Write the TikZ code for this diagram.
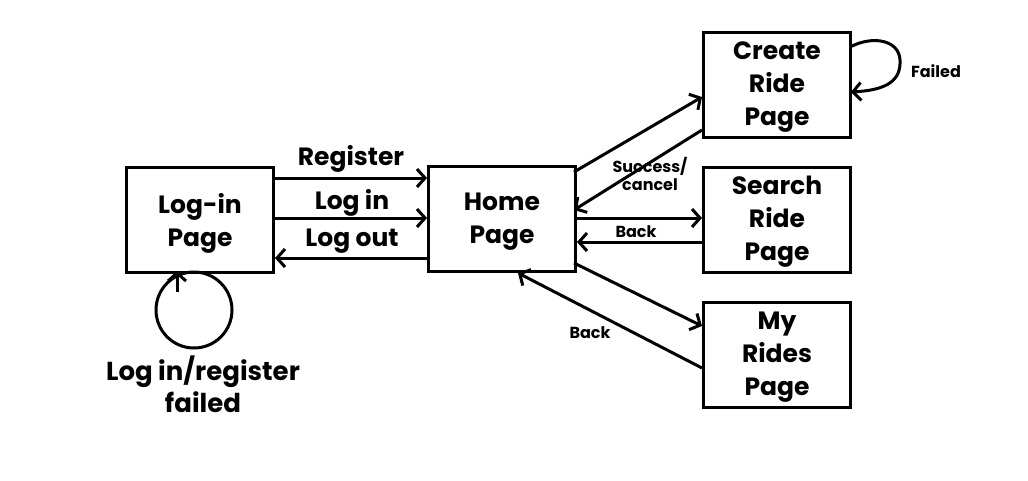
\documentclass[tikz,border=0pt]{standalone}
\usepackage{fontspec}
\setmainfont{Poppins}
\usetikzlibrary{arrows.meta}
\begin{document}
\begin{tikzpicture}[x=1pt,y=-1pt,
  page/.style={draw,line width=3pt,minimum width=147pt,minimum height=105pt,anchor=north west,inner sep=0pt,align=center,font=\fontsize{25}{33}\selectfont\bfseries},
  pagetext/.style={align=center,font=\fontsize{25}{33}\selectfont\bfseries,inner sep=0pt},
  conn/.style={line width=3pt,-{Straight Barb[length=8pt,width=18pt,line width=3pt]}},
  big/.style={font=\fontsize{25}{32}\selectfont\bfseries},
  small/.style={font=\fontsize{16}{18}\selectfont\bfseries,align=center}]
\useasboundingbox[fill=white] (0,0) rectangle (1028,480);
\node[page] (login) at (125,166) {};
\node[page] (home) at (427,165) {};
\node[page] (create) at (702,31) {};
\node[page] (search) at (702,166) {};
\node[page] (myrides) at (702,301) {};
\node[pagetext] (tlogin) at ([yshift=-3pt]login.center) {Log-in\\Page};
\node[pagetext] (thome) at ([yshift=-3pt]home.center) {Home\\Page};
\node[pagetext] (tcreate) at ([yshift=-2pt]create.center) {Create\\Ride\\Page};
\node[pagetext] (tsearch) at ([yshift=-2pt]search.center) {Search\\Ride\\Page};
\node[pagetext] (tmyrides) at ([yshift=-2pt]myrides.center) {My\\Rides\\Page};
% login <-> home
\draw[conn] (login.north east |- 0,178) -- (home.west |- 0,178);
\draw[conn] (login.north east |- 0,218) -- (home.west |- 0,218);
\draw[conn] (home.west |- 0,258) -- (login.east |- 0,258);
\node[big] (lreg) at (351,159) {Register};
\node[big] (llog) at (352,203) {Log in};
\node[big] (lout) at (352,241) {Log out};
% login self loop
\node[draw,circle,line width=3pt,minimum size=76pt,inner sep=0pt] (loop) at (194,310) {};
\coordinate (loopend) at (177,271);
\draw[conn] (177,292) -- (loopend);
\node[big,align=center,font=\fontsize{26}{32}\selectfont\bfseries] (lfail) at (203,384) {Log in/register\\failed};
% home <-> create
\coordinate (h1) at (574,172);
\coordinate (c1) at (702,97);
\draw[conn] (h1) -- (c1);
\coordinate (c2) at (702,130);
\coordinate (h2) at (574,210);
\draw[conn] (c2) -- (h2);
\node[small] (lsucc) at (650,174) {Success/\\cancel};
% home <-> search
\draw[conn] (home.east |- 0,218) -- (search.west |- 0,218);
\draw[conn] (search.west |- 0,242) -- (home.east |- 0,242);
\node[small] (lback1) at (636,232) {Back};
% home <-> myrides
\coordinate (h3) at (574,263);
\coordinate (m1) at (702,326);
\draw[conn] (h3) -- (m1);
\coordinate (m2) at (702,368);
\coordinate (h4) at (518,273);
\draw[conn] (m2) -- (h4);
\node[small] (lback2) at (590,333) {Back};
% create self loop
\coordinate (cs) at (850,47);
\coordinate (ce) at (851,92);
\draw[conn] (cs) .. controls (873,35) and (899,40) .. (900,60) .. controls (901,80) and (888,90) .. (ce);
\node[small] (lfailed) at (936,71) {Failed};
\end{tikzpicture}
\end{document}
